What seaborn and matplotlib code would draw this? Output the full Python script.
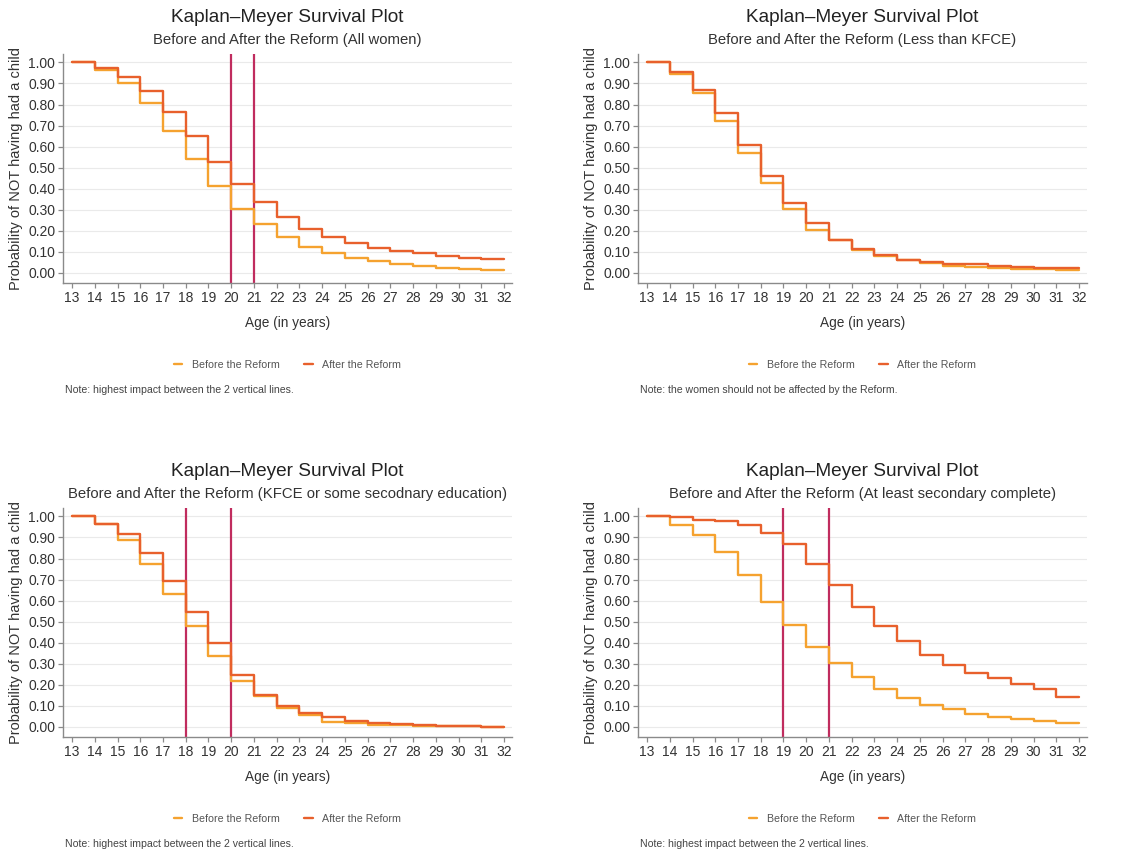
import pandas as pd
import matplotlib
matplotlib.use("Agg")
import matplotlib.pyplot as plt
from matplotlib.lines import Line2D
import seaborn as sns

sns.set_style("ticks")
plt.rcParams["font.family"] = ["Liberation Sans", "DejaVu Sans"]

ages = list(range(13, 33))

# survival values at ages 13..32 (last step held to the end)
before_all = [1.00, 0.965, 0.90, 0.805, 0.675, 0.54, 0.415, 0.305, 0.23, 0.17,
              0.125, 0.095, 0.07, 0.055, 0.04, 0.032, 0.025, 0.018, 0.012, 0.012]
after_all = [1.00, 0.975, 0.93, 0.865, 0.765, 0.65, 0.525, 0.42, 0.335, 0.265,
             0.21, 0.17, 0.14, 0.12, 0.105, 0.093, 0.082, 0.073, 0.065, 0.065]

before_low = [1.00, 0.945, 0.855, 0.72, 0.57, 0.425, 0.305, 0.205, 0.155, 0.11,
              0.08, 0.06, 0.048, 0.035, 0.028, 0.025, 0.02, 0.018, 0.012, 0.012]
after_low = [1.00, 0.955, 0.87, 0.76, 0.61, 0.46, 0.33, 0.235, 0.155, 0.115,
             0.085, 0.063, 0.053, 0.043, 0.04, 0.033, 0.028, 0.025, 0.025, 0.025]

before_mid = [1.00, 0.965, 0.89, 0.775, 0.63, 0.48, 0.335, 0.22, 0.145, 0.09,
              0.055, 0.025, 0.018, 0.01, 0.008, 0.004, 0.003, 0.002, 0.0, 0.0]
after_mid = [1.00, 0.965, 0.915, 0.825, 0.695, 0.545, 0.40, 0.245, 0.15, 0.10,
             0.065, 0.045, 0.03, 0.02, 0.015, 0.008, 0.006, 0.004, 0.0, 0.0]

before_high = [1.00, 0.96, 0.91, 0.83, 0.72, 0.595, 0.485, 0.38, 0.305, 0.235,
               0.18, 0.135, 0.105, 0.085, 0.06, 0.045, 0.037, 0.027, 0.018, 0.018]
after_high = [1.00, 0.995, 0.985, 0.978, 0.96, 0.92, 0.87, 0.775, 0.675, 0.57,
              0.48, 0.41, 0.34, 0.295, 0.255, 0.23, 0.205, 0.18, 0.14, 0.14]

subtitles = ["Before and After the Reform (All women)",
             "Before and After the Reform (Less than KFCE)",
             "Before and After the Reform (KFCE or some secodnary education)",
             "Before and After the Reform (At least secondary complete)"]
notes = ["Note: highest impact between the 2 vertical lines.",
         "Note: the women should not be affected by the Reform.",
         "Note: highest impact between the 2 vertical lines.",
         "Note: highest impact between the 2 vertical lines."]
vlines = [[20, 21], [], [18, 20], [19, 21]]
series = [(before_all, after_all), (before_low, after_low),
          (before_mid, after_mid), (before_high, after_high)]

groups = ["Before the Reform", "After the Reform"]
palette = {"Before the Reform": "#F5A22F", "After the Reform": "#E8602C"}
vcolor = "#C02C5E"
yticks = [i / 10 for i in range(11)]

W, H = 1139, 855
fig = plt.figure(figsize=(W / 100, H / 100), dpi=100)

lefts = [63, 638, 63, 638]
tops = [54, 54, 508, 508]
aw, ah = 449, 229

for i in range(4):
    l, t = lefts[i], tops[i]
    ax = fig.add_axes([l / W, 1 - (t + ah) / H, aw / W, ah / H])
    b, a = series[i]
    df = pd.DataFrame({"age": ages * 2, "surv": b + a,
                       "group": [groups[0]] * len(ages) + [groups[1]] * len(ages)})
    for x in vlines[i]:
        ax.axvline(x, color=vcolor, lw=1.6, zorder=1)
    sns.lineplot(data=df, x="age", y="surv", hue="group", palette=palette,
                 hue_order=groups, drawstyle="steps-post", errorbar=None,
                 lw=1.7, legend=False, ax=ax, zorder=3)

    ax.set_xlim(12.6, 32.35)
    ax.set_ylim(-0.048, 1.04)
    ax.set_xticks(ages)
    ax.set_yticks(yticks)
    ax.set_yticklabels([f"{v:.2f}" for v in yticks])
    ax.grid(axis="y", color="#EAEAEA", lw=0.8)
    ax.grid(axis="x", visible=False)
    ax.set_axisbelow(True)
    for s in ["top", "right"]:
        ax.spines[s].set_visible(False)
    for s in ["left", "bottom"]:
        ax.spines[s].set_color("#8A8A8A")
        ax.spines[s].set_linewidth(1.0)
    ax.tick_params(axis="both", labelsize=10, colors="#8A8A8A", labelcolor="#333333",
                   length=3.5, width=0.9, pad=2)

    ax.set_xlabel("Age (in years)", fontsize=9.8, color="#333333")
    ax.xaxis.set_label_coords(0.5, -0.142)
    ax.set_ylabel("Probability of NOT having had a child", fontsize=10.5, color="#333333")
    ax.yaxis.set_label_coords(-0.088, 0.5)

    cx = (l + aw / 2) / W
    fig.text(cx, 1 - (t - 37) / H, "Kaplan\u2013Meyer Survival Plot", fontsize=13.7,
             ha="center", va="center", color="#222222")
    fig.text(cx, 1 - (t - 14) / H, subtitles[i], fontsize=10.7,
             ha="center", va="center", color="#333333")

    handles = [Line2D([], [], color=palette[g], lw=1.7) for g in groups]
    fig.legend(handles, groups, loc="center", ncol=2, frameon=False, fontsize=7.7,
               handlelength=0.8, handletextpad=0.9, columnspacing=2.3,
               labelcolor="#555555", bbox_to_anchor=(cx, 1 - (t + 311) / H))
    fig.text((l + 2) / W, 1 - (t + 336) / H, notes[i], fontsize=7.6,
             ha="left", va="center", color="#444444")

fig.savefig("out.png", dpi=100)
